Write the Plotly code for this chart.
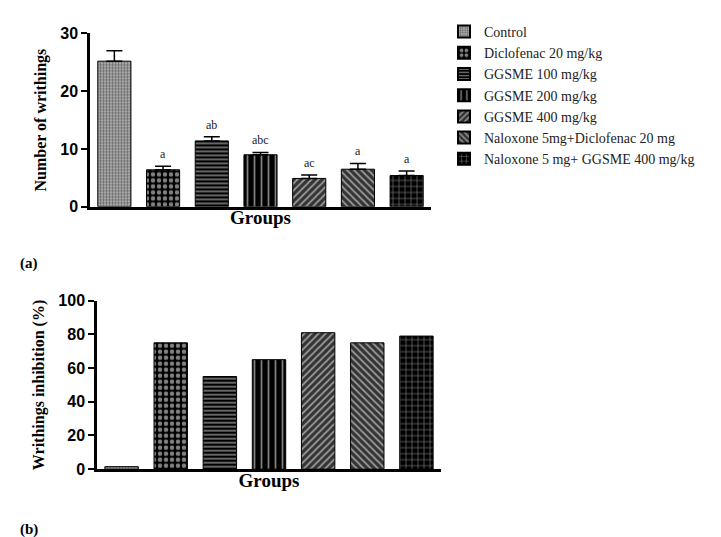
import plotly.graph_objects as go

groups = ["Control", "Diclofenac 20 mg/kg", "GGSME 100 mg/kg", "GGSME 200 mg/kg",
          "GGSME 400 mg/kg", "Naloxone 5mg+Diclofenac 20 mg", "Naloxone 5 mg+ GGSME 400 mg/kg"]
writhings = [25.2, 6.4, 11.4, 9.0, 4.9, 6.5, 5.4]
writhings_err = [1.8, 0.6, 0.7, 0.4, 0.6, 1.0, 0.8]
sig_labels = ["", "a", "ab", "abc", "ac", "a", "a"]
inhibition = [1.5, 75, 55, 65, 81, 75, 79]

patterns = [
    dict(shape=".", fgcolor="#111111", bgcolor="#bbbbbb", size=3, solidity=0.5),
    dict(shape=".", fgcolor="#ffffff", bgcolor="#000000", size=6, solidity=0.45),
    dict(shape="-", fgcolor="#ffffff", bgcolor="#000000", size=4, solidity=0.4),
    dict(shape="|", fgcolor="#ffffff", bgcolor="#000000", size=7, solidity=0.25),
    dict(shape="/", fgcolor="#ffffff", bgcolor="#333333", size=5, solidity=0.35),
    dict(shape="\\", fgcolor="#ffffff", bgcolor="#333333", size=5, solidity=0.35),
    dict(shape="+", fgcolor="#ffffff", bgcolor="#000000", size=6, solidity=0.2),
]

W, H = 721, 537
fig = go.Figure()

for i, g in enumerate(groups):
    fig.add_trace(go.Bar(
        x=[g], y=[writhings[i]], name=g, width=0.68,
        marker=dict(color=patterns[i]["bgcolor"], pattern=patterns[i],
                    line=dict(color="#000000", width=1)),
        error_y=dict(type="data", symmetric=False, array=[writhings_err[i]], arrayminus=[0],
                     color="#000000", thickness=1.5, width=8),
        xaxis="x", yaxis="y", showlegend=True,
    ))
for i, g in enumerate(groups):
    fig.add_trace(go.Bar(
        x=[g], y=[inhibition[i]], name=g, width=0.68,
        marker=dict(color=patterns[i]["bgcolor"], pattern=patterns[i],
                    line=dict(color="#000000", width=1)),
        xaxis="x2", yaxis="y2", showlegend=False,
    ))

ann = []
for i, g in enumerate(groups):
    if sig_labels[i]:
        ann.append(dict(x=g, y=writhings[i] + writhings_err[i], xref="x", yref="y",
                        text=sig_labels[i], showarrow=False, yanchor="bottom", yshift=3,
                        font=dict(family="Liberation Serif", size=12, color="#222222")))
ann.append(dict(x=10 / W, y=1 - 256 / H, xref="paper", yref="paper", text="(a)", showarrow=False,
                xanchor="left", yanchor="middle",
                font=dict(family="Liberation Serif", size=15, color="#000000", weight="bold")))
ann.append(dict(x=10 / W, y=1 - 530 / H, xref="paper", yref="paper", text="(b)", showarrow=False,
                xanchor="left", yanchor="middle",
                font=dict(family="Liberation Serif", size=15, color="#000000", weight="bold")))

tickfont = dict(family="Liberation Sans", size=16, color="#000000", weight="bold")
titlefont = dict(family="Liberation Serif", size=16, color="#000000", weight="bold")
groupsfont = dict(family="Liberation Serif", size=19, color="#000000", weight="bold")

common_x = dict(showline=True, linecolor="#000000", linewidth=2.5, showticklabels=False,
                ticks="", showgrid=False, zeroline=False, range=[-0.5, 6.5])
common_y = dict(showline=True, linecolor="#000000", linewidth=2.5, ticks="outside", ticklen=6,
                tickwidth=2, tickcolor="#000000", showgrid=False, zeroline=False, tickfont=tickfont)

fig.update_layout(
    width=W, height=H, margin=dict(l=0, r=0, t=0, b=0),
    paper_bgcolor="#ffffff", plot_bgcolor="#ffffff", barmode="overlay",
    xaxis=dict(domain=[82 / W, 423 / W], anchor="y",
               title=dict(text="Groups", font=groupsfont, standoff=3), **common_x),
    yaxis=dict(domain=[1 - 197 / H, 1 - 18 / H], anchor="x", range=[0, 30], dtick=10,
               title=dict(text="Number of writhings", font=titlefont, standoff=10), **common_y),
    xaxis2=dict(domain=[89 / W, 433 / W], anchor="y2",
                title=dict(text="Groups", font=groupsfont, standoff=3), **common_x),
    yaxis2=dict(domain=[1 - 468 / H, 1 - 294 / H], anchor="x2", range=[0, 100], dtick=20,
                title=dict(text="Writhings inhibition (%)", font=titlefont, standoff=10), **common_y),
    legend=dict(x=436 / W, y=1.0, xanchor="left", yanchor="top",
                font=dict(family="Liberation Serif", size=14, color="#222222"),
                bgcolor="rgba(0,0,0,0)", itemsizing="constant", tracegroupgap=0),
    annotations=ann,
    showlegend=True,
)

fig.write_html("out.html")
